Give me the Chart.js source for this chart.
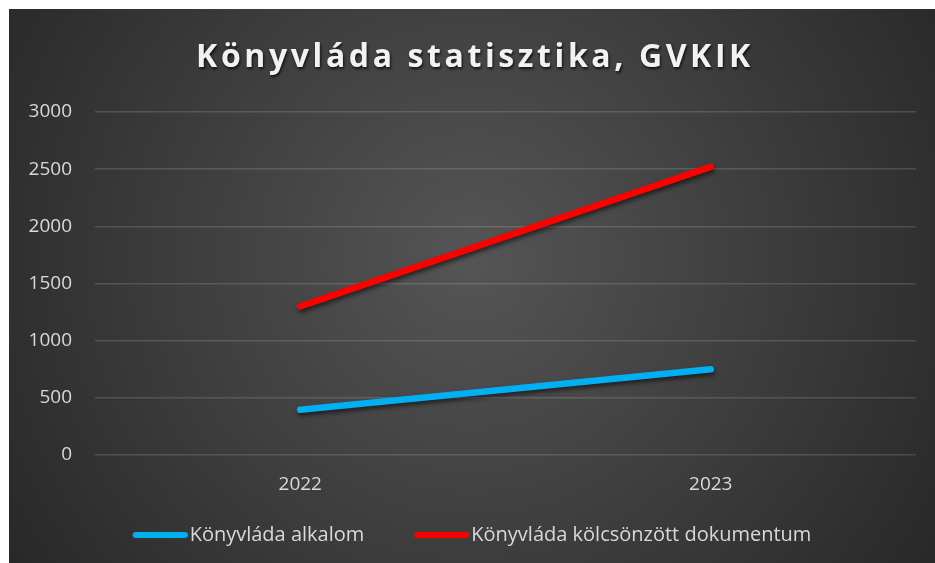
<!DOCTYPE html>
<html>
<head>
<meta charset="utf-8">
<script src="https://cdn.jsdelivr.net/npm/chart.js@4/dist/chart.umd.min.js"></script>
<style>
  html, body { margin: 0; padding: 0; background: #ffffff; }
  #wrap { position: absolute; left: 9px; top: 9px; width: 926px; height: 554px; }
</style>
</head>
<body>
<div id="wrap"><canvas id="c" width="926" height="554"></canvas></div>
<script>
const chartTitle = 'Könyvláda statisztika, GVKIK';
const categories = ['2022', '2023'];
const seriesNames = ['Könyvláda alkalom', 'Könyvláda kölcsönzött dokumentum'];
const alkalom = [395, 750];
const dokumentum = [1300, 2520];
const yMin = 0, yMax = 3000, yStep = 500;

const FONT = '"Open Sans", "DejaVu Sans", sans-serif';

// legend marker: rounded line drawn at the right end of a wide box, next to the text
function makeMarker(color) {
  const c = document.createElement('canvas');
  c.width = 82; c.height = 10;
  const x = c.getContext('2d');
  x.strokeStyle = color;
  x.lineWidth = 6;
  x.lineCap = 'round';
  x.beginPath();
  x.moveTo(30, 5);
  x.lineTo(79, 5);
  x.stroke();
  return c;
}

const bgPlugin = {
  id: 'bg',
  beforeDraw(chart) {
    const ctx = chart.ctx, w = chart.width, h = chart.height;
    ctx.save();
    const g = ctx.createRadialGradient(w * 0.5, h * 0.45, 0, w * 0.5, h * 0.45, w * 0.6);
    g.addColorStop(0, '#555555');
    g.addColorStop(1, '#282828');
    ctx.fillStyle = g;
    ctx.fillRect(0, 0, w, h);
    ctx.font = 'bold 32px ' + FONT;
    ctx.letterSpacing = '3.6px';
    ctx.textAlign = 'center';
    ctx.textBaseline = 'alphabetic';
    ctx.shadowColor = 'rgba(0,0,0,0.75)';
    ctx.shadowOffsetX = 1;
    ctx.shadowOffsetY = 2;
    ctx.shadowBlur = 3;
    ctx.fillStyle = '#f2f2f2';
    ctx.fillText(chartTitle, w / 2 + 3, 58);
    ctx.restore();
  }
};

const shadowPlugin = {
  id: 'lineShadow',
  beforeDatasetsDraw(chart) {
    const ctx = chart.ctx;
    ctx.save();
    ctx.shadowColor = 'rgba(0,0,0,0.55)';
    ctx.shadowOffsetX = 1;
    ctx.shadowOffsetY = 3;
    ctx.shadowBlur = 4;
  },
  afterDatasetsDraw(chart) {
    chart.ctx.restore();
  }
};

new Chart(document.getElementById('c'), {
  type: 'line',
  data: {
    labels: categories,
    datasets: [
      {
        label: seriesNames[0],
        data: alkalom,
        borderColor: '#00b0f0',
        backgroundColor: '#00b0f0',
        borderWidth: 6.5,
        borderCapStyle: 'round',
        pointRadius: 0,
        pointStyle: makeMarker('#00b0f0'),
        tension: 0
      },
      {
        label: seriesNames[1],
        data: dokumentum,
        borderColor: '#ff0000',
        backgroundColor: '#ff0000',
        borderWidth: 6.5,
        borderCapStyle: 'round',
        pointRadius: 0,
        pointStyle: makeMarker('#ff0000'),
        tension: 0
      }
    ]
  },
  options: {
    responsive: false,
    animation: false,
    devicePixelRatio: 1,
    layout: { padding: { top: 103, right: 19, left: 0, bottom: 8 } },
    plugins: {
      title: { display: false },
      tooltip: { enabled: false },
      legend: {
        position: 'bottom',
        labels: {
          usePointStyle: true,
          pointStyleWidth: 66,
          boxHeight: 10,
          padding: 31,
          color: '#d9d9d9',
          font: { family: FONT, size: 20 }
        }
      }
    },
    scales: {
      x: {
        offset: true,
        afterFit(scale) { scale.height = 39; },
        grid: { display: false, drawTicks: false },
        border: { display: false },
        ticks: { color: '#d9d9d9', font: { family: FONT, size: 19 }, padding: 18 }
      },
      y: {
        min: yMin,
        max: yMax,
        afterFit(scale) { scale.width = 86; },
        grid: { color: 'rgba(255,255,255,0.14)', lineWidth: 1.5, drawTicks: false },
        border: { display: false },
        ticks: {
          stepSize: yStep,
          color: '#d9d9d9',
          font: { family: FONT, size: 19 },
          padding: 23,
          callback: (v) => String(v)
        }
      }
    }
  },
  plugins: [bgPlugin, shadowPlugin]
});
</script>
</body>
</html>
